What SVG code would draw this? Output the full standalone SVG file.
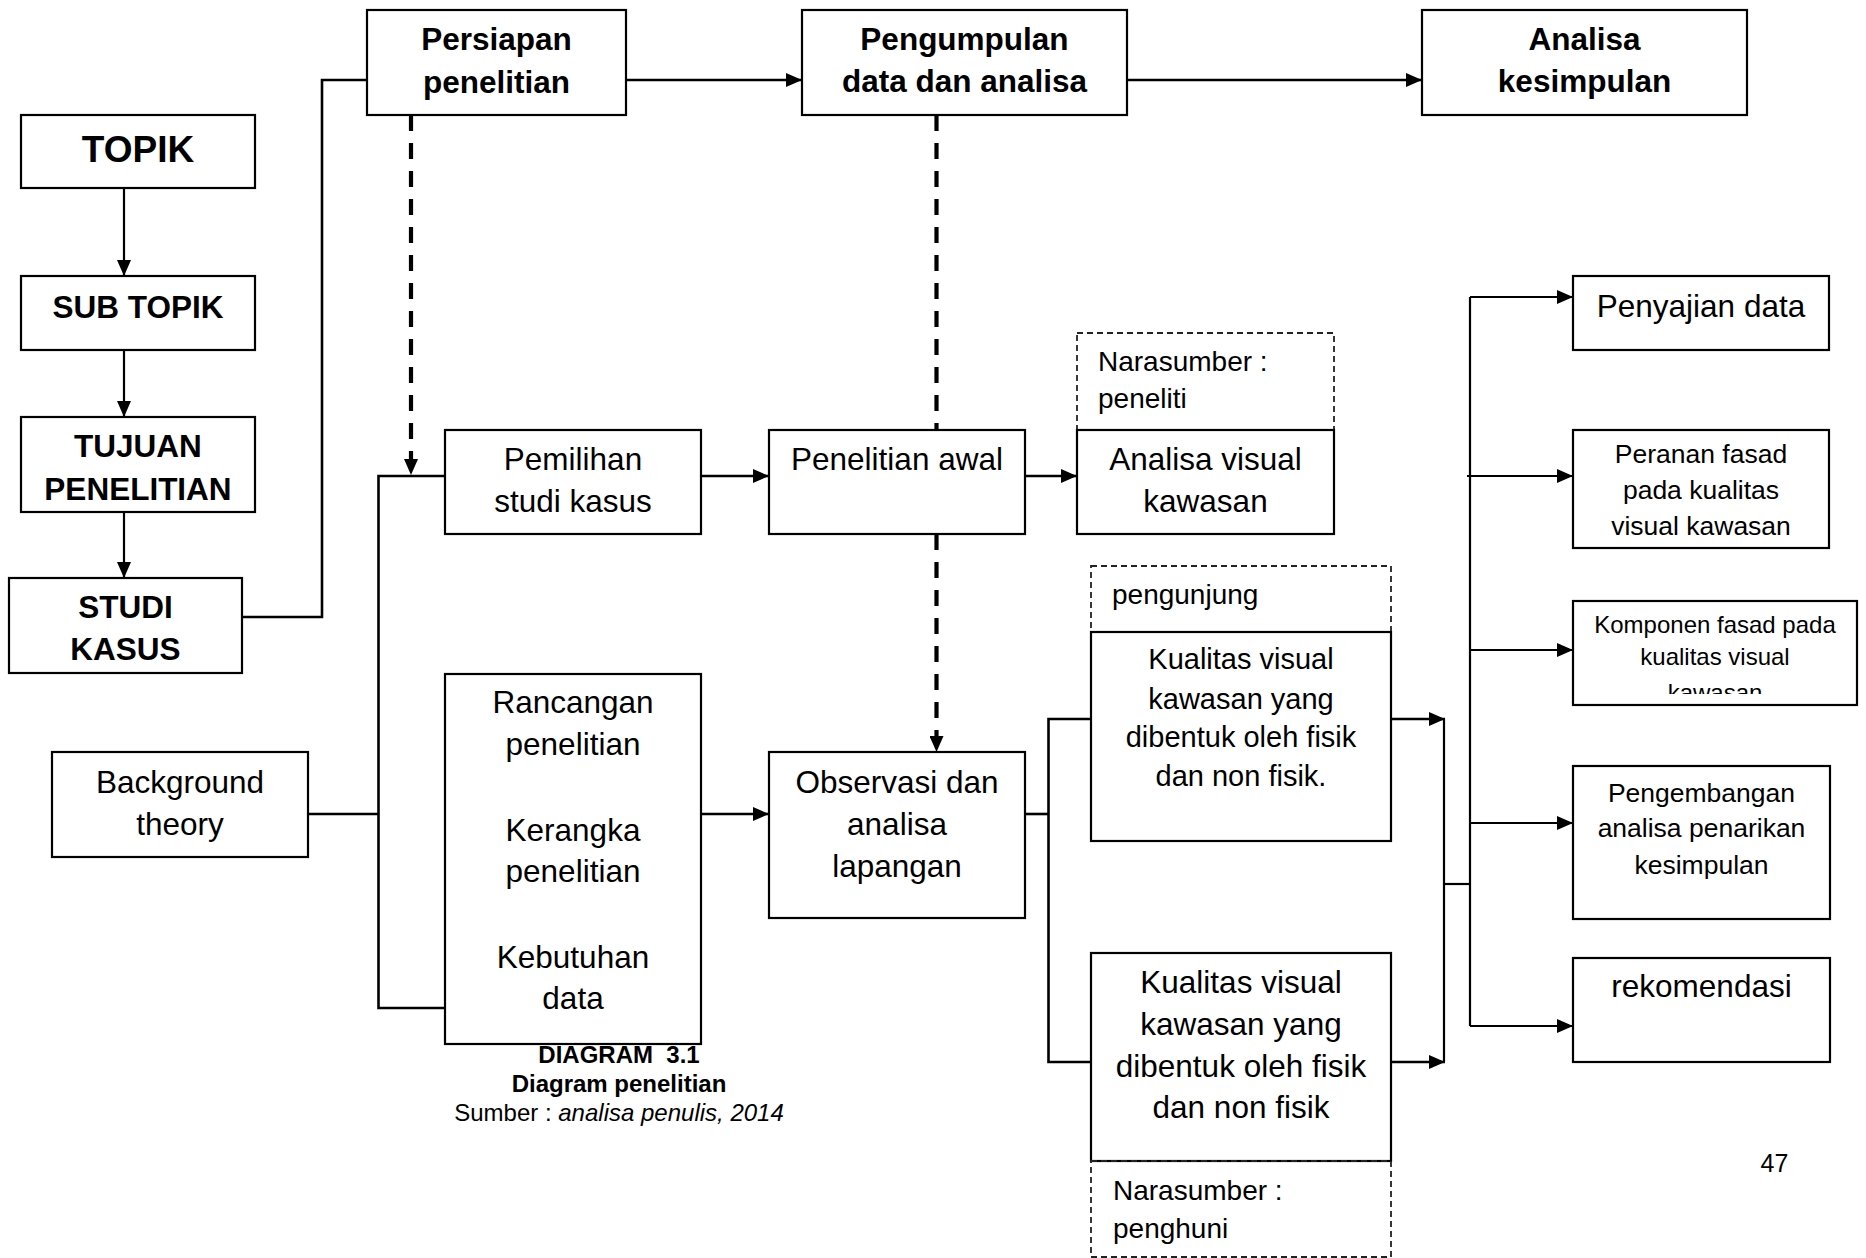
<svg xmlns="http://www.w3.org/2000/svg" width="1866" height="1258" viewBox="0 0 1866 1258">
<style>
text{font-family:"Liberation Sans",Arial,sans-serif;fill:#000}
.box{fill:#fff;stroke:#000;stroke-width:2.2}
.dbox{fill:none;stroke:#222;stroke-width:1.8;stroke-dasharray:6 4}
.c{fill:none;stroke:#000;stroke-width:2.6}
.c2{fill:none;stroke:#000;stroke-width:2.2}
.dash{fill:none;stroke:#000;stroke-width:4.2;stroke-dasharray:16 12}
.b{font-weight:bold;font-size:31.5px;text-anchor:middle}
.tp{font-weight:bold;font-size:37px;text-anchor:middle}
.t{font-size:31.5px;text-anchor:middle}
.tl{font-size:28px}
.k1{font-size:29px;text-anchor:middle}
.k2{font-size:31.5px;text-anchor:middle}
.s26{font-size:26.5px;text-anchor:middle}
.s24{font-size:24px;text-anchor:middle}
.capb{font-weight:bold;font-size:24px;text-anchor:middle;white-space:pre}
.cap{font-size:24px;text-anchor:middle}
</style>
<defs>
<marker id="ah" markerUnits="userSpaceOnUse" markerWidth="16" markerHeight="14" refX="16" refY="7" orient="auto">
<path d="M0,0 L16,7 L0,14 z" fill="#000" stroke="none"/>
</marker>
<clipPath id="kclip"><rect x="1573" y="601" width="284" height="93"/></clipPath>
</defs>

<g id="connectors">
<path class="c" d="M242,617 H322 V80 H367"/>
<path class="c" d="M626,80 H802" marker-end="url(#ah)"/>
<path class="c" d="M1127,80 H1422" marker-end="url(#ah)"/>
<path class="c2" d="M124,188 V276" marker-end="url(#ah)"/>
<path class="c2" d="M124,350 V417" marker-end="url(#ah)"/>
<path class="c2" d="M124,512 V578" marker-end="url(#ah)"/>
<path class="dash" d="M411,115 V475" marker-end="url(#ah)"/>
<path class="c" d="M445,476 H378.5 V1008 H445"/>
<path class="c" d="M308,814 H378.5"/>
<path class="c" d="M701,476 H769" marker-end="url(#ah)"/>
<path class="c" d="M701,814 H769" marker-end="url(#ah)"/>
<path class="dash" d="M936.5,115 V430"/>
<path class="dash" d="M936.5,534 V752" marker-end="url(#ah)"/>
<path class="c" d="M1025,476 H1077" marker-end="url(#ah)"/>
<path class="c" d="M1025,814 H1048.5"/>
<path class="c" d="M1091,719 H1048.5 V1062 H1091"/>
<path class="c" d="M1391,719 H1445" marker-end="url(#ah)"/>
<path class="c" d="M1391,1062 H1445" marker-end="url(#ah)"/>
<path class="c2" d="M1444,719 V1062"/>
<path class="c2" d="M1444,884 H1470"/>
<path class="c2" d="M1470,297 V1026"/>
<path class="c2" d="M1470,297 H1573" marker-end="url(#ah)"/>
<path class="c2" d="M1467,476 H1573" marker-end="url(#ah)"/>
<path class="c2" d="M1470,650 H1573" marker-end="url(#ah)"/>
<path class="c2" d="M1470,823 H1573" marker-end="url(#ah)"/>
<path class="c2" d="M1470,1026 H1573" marker-end="url(#ah)"/>
</g>

<g id="persiapan"><rect class="box" x="367" y="10" width="259" height="105"/>
<text class="b" x="496.5" y="50">Persiapan</text><text class="b" x="496.5" y="93">penelitian</text></g>
<g id="pengumpulan"><rect class="box" x="802" y="10" width="325" height="105"/>
<text class="b" x="964.5" y="50">Pengumpulan</text><text class="b" x="964.5" y="92">data dan analisa</text></g>
<g id="analisa-kesimpulan"><rect class="box" x="1422" y="10" width="325" height="105"/>
<text class="b" x="1584.5" y="50">Analisa</text><text class="b" x="1584.5" y="92">kesimpulan</text></g>

<g id="topik"><rect class="box" x="21" y="115" width="234" height="73"/>
<text class="tp" x="138" y="162">TOPIK</text></g>
<g id="sub-topik"><rect class="box" x="21" y="276" width="234" height="74"/>
<text class="b" x="138" y="318">SUB TOPIK</text></g>
<g id="tujuan"><rect class="box" x="21" y="417" width="234" height="95"/>
<text class="b" x="138" y="457">TUJUAN</text><text class="b" x="138" y="500">PENELITIAN</text></g>
<g id="studi-kasus"><rect class="box" x="9" y="578" width="233" height="95"/>
<text class="b" x="125.5" y="618">STUDI</text><text class="b" x="125.5" y="660">KASUS</text></g>

<g id="background"><rect class="box" x="52" y="752" width="256" height="105"/>
<text class="t" x="180" y="793">Background</text><text class="t" x="180" y="835">theory</text></g>

<g id="pemilihan"><rect class="box" x="445" y="430" width="256" height="104"/>
<text class="t" x="573" y="470">Pemilihan</text><text class="t" x="573" y="512">studi kasus</text></g>
<g id="rancangan"><rect class="box" x="445" y="674" width="256" height="370"/>
<text class="t" x="573" y="713">Rancangan</text><text class="t" x="573" y="755">penelitian</text>
<text class="t" x="573" y="841">Kerangka</text><text class="t" x="573" y="882">penelitian</text>
<text class="t" x="573" y="968">Kebutuhan</text><text class="t" x="573" y="1009">data</text></g>

<g id="penelitian-awal"><rect class="box" x="769" y="430" width="256" height="104"/>
<text class="t" x="897" y="470">Penelitian awal</text></g>
<g id="observasi"><rect class="box" x="769" y="752" width="256" height="166"/>
<text class="t" x="897" y="793">Observasi dan</text><text class="t" x="897" y="835">analisa</text><text class="t" x="897" y="877">lapangan</text></g>

<g id="narasumber-peneliti"><rect class="dbox" x="1077" y="333" width="257" height="97"/>
<text class="tl" x="1098" y="371">Narasumber :</text><text class="tl" x="1098" y="408">peneliti</text></g>
<g id="analisa-visual"><rect class="box" x="1077" y="430" width="257" height="104"/>
<text class="t" x="1205.5" y="470">Analisa visual</text><text class="t" x="1205.5" y="512">kawasan</text></g>

<g id="pengunjung"><rect class="dbox" x="1091" y="566" width="300" height="66"/>
<text class="tl" x="1112" y="604">pengunjung</text></g>
<g id="kualitas-1"><rect class="box" x="1091" y="632" width="300" height="209"/>
<text class="k1" x="1241" y="669">Kualitas visual</text><text class="k1" x="1241" y="709">kawasan yang</text>
<text class="k1" x="1241" y="747">dibentuk oleh fisik</text><text class="k1" x="1241" y="786">dan non fisik.</text></g>
<g id="kualitas-2"><rect class="box" x="1091" y="953" width="300" height="208"/>
<text class="k2" x="1241" y="993">Kualitas visual</text><text class="k2" x="1241" y="1035">kawasan yang</text>
<text class="k2" x="1241" y="1077">dibentuk oleh fisik</text><text class="k2" x="1241" y="1118">dan non fisik</text></g>
<g id="narasumber-penghuni"><rect class="dbox" x="1091" y="1161" width="300" height="96"/>
<text class="tl" x="1113" y="1200">Narasumber :</text><text class="tl" x="1113" y="1238">penghuni</text></g>

<g id="penyajian"><rect class="box" x="1573" y="276" width="256" height="74"/>
<text class="t" x="1701" y="317">Penyajian data</text></g>
<g id="peranan"><rect class="box" x="1573" y="430" width="256" height="118"/>
<text class="s26" x="1701" y="463">Peranan fasad</text><text class="s26" x="1701" y="499">pada kualitas</text><text class="s26" x="1701" y="535">visual kawasan</text></g>
<g id="komponen"><rect class="box" x="1573" y="601" width="284" height="104"/>
<g clip-path="url(#kclip)"><text class="s24" x="1715" y="633">Komponen fasad pada</text><text class="s24" x="1715" y="665">kualitas visual</text><text class="s24" x="1715" y="701">kawasan</text></g></g>
<g id="pengembangan"><rect class="box" x="1573" y="766" width="257" height="153"/>
<text class="s26" x="1701.5" y="802">Pengembangan</text><text class="s26" x="1701.5" y="837">analisa penarikan</text><text class="s26" x="1701.5" y="874">kesimpulan</text></g>
<g id="rekomendasi"><rect class="box" x="1573" y="958" width="257" height="104"/>
<text class="t" x="1701.5" y="997">rekomendasi</text></g>

<g id="caption">
<text class="capb" x="619" y="1063">DIAGRAM  3.1</text>
<text class="capb" x="619" y="1092">Diagram penelitian</text>
<text class="cap" x="619" y="1121">Sumber : <tspan font-style="italic">analisa penulis, 2014</tspan></text>
</g>
<text x="1774.5" y="1172" style="font-size:25px;text-anchor:middle">47</text>
</svg>
